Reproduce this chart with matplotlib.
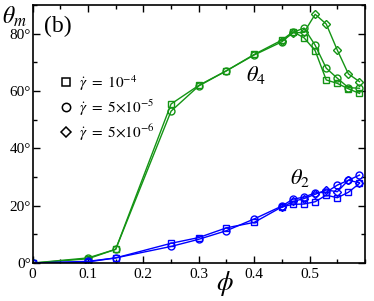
import numpy as np
import matplotlib
matplotlib.use('Agg')
import matplotlib.pyplot as plt
from matplotlib.ticker import MultipleLocator, FixedLocator, FuncFormatter

plt.rcParams['font.family'] = 'Liberation Serif'
plt.rcParams['mathtext.fontset'] = 'stix'

# volume fractions
phi = [0, 0.1, 0.15, 0.25, 0.3, 0.35, 0.4, 0.45, 0.47, 0.49, 0.51, 0.53, 0.55, 0.57, 0.59]
phi_hi = [0.45, 0.47, 0.49, 0.51, 0.53, 0.55, 0.57, 0.59]

# theta_4 (green)
t4_sq = [0, 1.5, 4.8, 55.5, 62.0, 67.1, 72.8, 77.8, 80.7, 78.6, 74.1, 63.9, 62.7, 60.8, 59.2]
t4_ci = [0, 1.8, 4.8, 53.0, 61.8, 67.1, 72.6, 77.2, 80.5, 82.0, 76.0, 68.0, 64.5, 61.2, 61.0]
t4_di = [77.5, 80.3, 80.5, 86.8, 83.4, 74.3, 66.0, 63.3]

# theta_2 (blue)
t2_sq = [0, 0.4, 1.8, 6.9, 8.9, 12.3, 14.2, 19.6, 20.5, 20.6, 21.4, 23.7, 22.8, 24.7, 27.8]
t2_ci = [0, 0.6, 1.8, 5.8, 8.3, 11.3, 15.4, 19.9, 22.3, 23.0, 24.5, 24.7, 27.2, 28.9, 30.7]
t2_di = [19.4, 21.5, 22.5, 24.0, 25.5, 24.9, 28.9, 28.0]

legend_labels = [r'$\dot{\gamma}\ =\ 10^{-4}$',
                 r'$\dot{\gamma}\ =\ 5{\times}10^{-5}$',
                 r'$\dot{\gamma}\ =\ 5{\times}10^{-6}$']

green = '#149414'
blue = '#0000ff'

fig = plt.figure(figsize=(3.74, 3.01), dpi=100)
ax = fig.add_axes([0.087, 0.126, 0.889, 0.857])

kw = dict(lw=1.0, ms=5, mfc='none', mew=1.0)
kd = dict(lw=1.0, ms=4, mfc='none', mew=1.0)
ax.plot(phi, t4_sq, 's-', color=green, **kw)
ax.plot(phi, t4_ci, 'o-', color=green, **kw)
ax.plot(phi_hi, t4_di, 'D-', color=green, **kd)
ax.plot(phi, t2_sq, 's-', color=blue, **kw)
ax.plot(phi, t2_ci, 'o-', color=blue, **kw)
ax.plot(phi_hi, t2_di, 'D-', color=blue, **kd)

# legend markers (black)
h1, = ax.plot([], [], 's', color='k', mfc='none', ms=6, mew=1.1)
h2, = ax.plot([], [], 'o', color='k', mfc='none', ms=6, mew=1.1)
h3, = ax.plot([], [], 'D', color='k', mfc='none', ms=5, mew=1.1)
ax.legend([h1, h2, h3], legend_labels, loc='upper left', bbox_to_anchor=(0.035, 0.79),
          frameon=False, fontsize=11, handletextpad=0.4, labelspacing=0.3,
          handlelength=1.0)

ax.set_xlim(0, 0.6)
ax.set_ylim(0, 90)
ax.xaxis.set_major_locator(FixedLocator([0, 0.1, 0.2, 0.3, 0.4, 0.5]))
ax.xaxis.set_minor_locator(MultipleLocator(0.05))
ax.yaxis.set_major_locator(FixedLocator([0, 20, 40, 60, 80]))
ax.yaxis.set_minor_locator(MultipleLocator(10))
ax.xaxis.set_major_formatter(FuncFormatter(lambda v, p: '0' if v == 0 else f'{v:.1f}'))
ax.yaxis.set_major_formatter(FuncFormatter(lambda v, p: f'{int(v)}°'))
ax.tick_params(which='both', direction='in', top=True, right=True, labelsize=11)
ax.tick_params(which='major', length=5, width=1)
ax.tick_params(which='minor', length=3, width=1)
ax.tick_params(axis='y', pad=1)
for s in ax.spines.values():
    s.set_linewidth(1.2)

ax.text(0.035, 0.96, '(b)', transform=ax.transAxes, fontsize=17, va='top')
ax.text(0.385, 63.5, r'$\theta_4$', fontsize=16)
ax.text(0.465, 27.5, r'$\theta_2$', fontsize=16)
fig.text(0.005, 0.985, r'$\theta_m$', fontsize=17, va='top')
fig.text(0.60, 0.01, r'$\phi$', fontsize=19, ha='center', va='bottom')

fig.savefig('out.png', dpi=100)
